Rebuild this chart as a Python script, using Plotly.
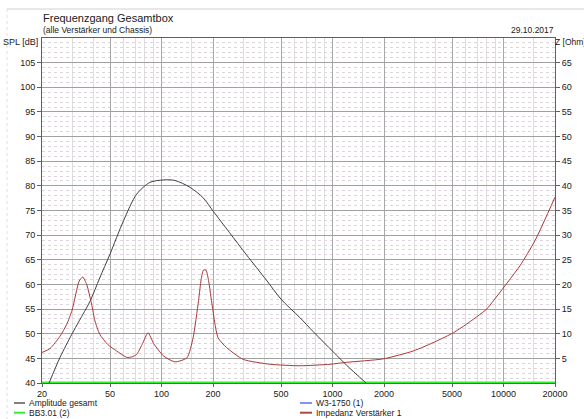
import plotly.graph_objects as go

# Total response of the box (SPL, dB)
amp_freq = [22.0, 25.5, 29.9, 33.0, 38.2, 43.5, 49.9, 59.9, 71.5, 85.5, 102.6, 119.6,
            146.8, 175, 201, 250, 314, 410, 500, 643, 772, 1011, 1210, 1570]
amp_db = [40.0, 45.2, 49.9, 52.6, 56.6, 61.3, 66.1, 72.9, 78.3, 80.7, 81.2, 81.1,
          79.7, 77.6, 74.8, 70.5, 66.0, 60.9, 57.0, 53.3, 50.4, 46.3, 43.6, 40.0]

# Amplifier 1 impedance (Ohm)
imp_freq = [20, 22.3, 25.5, 27.9, 30.0, 33.0, 34.6, 36.5, 39.0, 40.8, 43.5, 48.5, 54.6,
            62.6, 67.0, 71.5, 77.0, 83.4, 90.0, 102.6, 119.6, 140.8, 153, 164.6, 170.5,
            175.8, 182, 189, 196, 214, 240, 300, 432, 644, 966, 1210, 1981, 2966,
            4057, 5088, 6054, 7970, 8730, 12480, 15280, 20000]
imp_ohm = [6.2, 7.0, 9.5, 11.9, 14.8, 20.7, 21.5, 20.0, 16.0, 12.6, 9.9, 7.8, 6.5,
           5.2, 5.3, 5.8, 7.8, 10.2, 8.0, 5.5, 4.3, 5.1, 9.2, 16.7, 21.0,
           22.9, 22.9, 20.5, 16.7, 9.2, 7.2, 4.8, 3.8, 3.5, 3.8, 4.2, 4.9, 6.5,
           8.5, 10.2, 11.9, 15.0, 16.7, 23.8, 28.9, 37.7]

# BB3.01 driver, sitting on the lower edge of the SPL scale
bb_freq = [20, 20000]
bb_db = [40, 40]

x_major = [20, 50, 100, 200, 500, 1000, 2000, 5000, 10000, 20000]
x_minor = [30, 40, 60, 70, 80, 90, 300, 400, 600, 700, 800, 900,
           3000, 4000, 6000, 7000, 8000, 9000, 150, 1500, 15000]
y_major = list(range(40, 110, 5))
y_minor = [v for v in range(41, 110) if v % 5 != 0]
z_ticks = list(range(5, 70, 5))

legend_left = [("Amplitude gesamt", "#808080"), ("BB3.01 (2)", "#33ee33")]
legend_right = [("W3-1750 (1)", "#8c8cff"), ("Impedanz Verstärker 1", "#b04848")]

FONT = "Liberation Sans, Arial, sans-serif"
W, H = 584, 419
L, R, T, B = 42, 555, 38, 383
PW, PH = R - L, B - T


def px(x):
    return (x - L) / PW


def py(y):
    return (B - y) / PH


fig = go.Figure()
fig.add_trace(go.Scatter(x=bb_freq, y=bb_db, mode="lines",
                         line=dict(color="#33ee33", width=3), showlegend=False))
fig.add_trace(go.Scatter(x=amp_freq, y=amp_db, mode="lines",
                         line=dict(color="#404040", width=1, shape="spline",
                                   smoothing=0.8), showlegend=False))
fig.add_trace(go.Scatter(x=imp_freq, y=imp_ohm, mode="lines", yaxis="y2",
                         line=dict(color="#a83838", width=1, shape="spline",
                                   smoothing=0.6), showlegend=False))

axis_font = dict(family=FONT, size=9, color="#202020")

fig.update_layout(
    width=W, height=H,
    margin=dict(l=L, r=W - R, t=T, b=H - B),
    paper_bgcolor="white", plot_bgcolor="white",
    font=axis_font,
    xaxis=dict(
        type="log", range=[1.30103, 4.30103],
        tickmode="array", tickvals=x_major, ticktext=[str(v) for v in x_major],
        showgrid=True, gridcolor="#a8a8a8", gridwidth=1,
        minor=dict(tickvals=x_minor, showgrid=True, gridcolor="#dedede", gridwidth=1,
                   ticks=""),
        ticks="outside", ticklen=3, tickcolor="#606060",
        ticklabelstandoff=-1,
        showline=True, linecolor="#606060", mirror=True,
        layer="below traces", zeroline=False, tickfont=axis_font,
    ),
    yaxis=dict(
        range=[40, 110],
        tickmode="array", tickvals=y_major,
        showgrid=True, gridcolor="#a0a0a0", gridwidth=1,
        minor=dict(tickvals=y_minor, showgrid=True, gridcolor="#ddd4dd", gridwidth=1,
                   griddash="dot", ticks=""),
        ticks="outside", ticklen=4, tickcolor="#606060",
        showline=True, linecolor="#606060",
        layer="below traces", zeroline=False, tickfont=axis_font,
    ),
    yaxis2=dict(
        range=[0, 70], overlaying="y", side="right",
        tickmode="array", tickvals=z_ticks,
        showgrid=False, zeroline=False,
        ticks="outside", ticklen=4, tickcolor="#606060",
        showline=True, linecolor="#606060",
        layer="below traces", tickfont=axis_font,
    ),
)

ann = []


def text(s, x, y, size=9, xanchor="left", color="#202020"):
    ann.append(dict(text=s, x=px(x), y=py(y), xref="paper", yref="paper",
                    xanchor=xanchor, yanchor="middle", showarrow=False,
                    font=dict(family=FONT, size=size, color=color)))


text("Frequenzgang Gesamtbox", 41, 18, size=11)
text("(alle Verstärker und Chassis)", 41, 30, size=8.5)
text("29.10.2017", 556, 30, size=8.5, xanchor="right")
text("SPL [dB]", 1, 42, size=9)
text("Z [Ohm]", 553, 42, size=8.5)

shapes = []
# outer frame lines
shapes.append(dict(type="line", xref="paper", yref="paper",
                   x0=px(7), x1=px(584), y0=py(9), y1=py(9),
                   line=dict(color="#d0d0d0", width=1)))
shapes.append(dict(type="line", xref="paper", yref="paper",
                   x0=px(7), x1=px(7), y0=py(9), y1=py(419),
                   line=dict(color="#e0e0e0", width=1, dash="dot")))

for i, (name, col) in enumerate(legend_left):
    yy = 403 + i * 9.7
    shapes.append(dict(type="line", xref="paper", yref="paper",
                       x0=px(14), x1=px(25), y0=py(yy), y1=py(yy),
                       line=dict(color=col, width=2)))
    text(name, 27, yy, size=8.5)
for i, (name, col) in enumerate(legend_right):
    yy = 403 + i * 9.7
    shapes.append(dict(type="line", xref="paper", yref="paper",
                       x0=px(300), x1=px(312), y0=py(yy), y1=py(yy),
                       line=dict(color=col, width=2)))
    text(name, 314, yy, size=8.5)

fig.update_layout(annotations=ann, shapes=shapes)
fig.write_html("out.html")
